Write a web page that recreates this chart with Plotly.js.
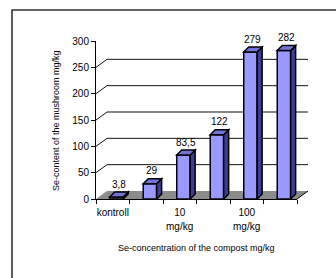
<!DOCTYPE html>
<html>
<head>
<meta charset="utf-8">
<script src="https://cdn.plot.ly/plotly-3.0.1.min.js"></script>
<style>
  html, body { margin: 0; padding: 0; background: #fff; }
  #chart { width: 336px; height: 278px; }
</style>
</head>
<body>
<div id="chart"></div>
<script>
// ---- data ----
const xPositions = [0, 1, 2, 3, 4, 5];
const values = [3.8, 29, 83.5, 122, 279, 282];
const tickPositions = [0, 2, 4];
const tickLabels = ["kontroll", "10", "100"];
const tickUnits = ["", "mg/kg", "mg/kg"];
const yTickValues = [0, 50, 100, 150, 200, 250, 300];
const gridValues = [50, 100, 150, 200, 250];
const xTitle = "Se-concentration of the compost mg/kg";
const yTitle = "Se-content of the mushroom mg/kg";

// ---- layout geometry / style ----
const W = 336, H = 278;
const margin = { l: 96, r: 39, t: 41, b: 79 };
const plotW = W - margin.l - margin.r;
const plotH = H - margin.t - margin.b;
const xRange = [-0.5, 5.5];
const yRange = [0, 300];
const pxPerX = plotW / (xRange[1] - xRange[0]);
const pxPerY = plotH / (yRange[1] - yRange[0]);
const barWidth = 0.4, barOffset = -0.09;
const depth = 5;             // bar depth (px)
const wallDx = 11, wallDy = 8; // back-plane offset (px)
const font = "Liberation Sans, Arial, sans-serif";
const frontColor = "#9999ff", topColor = "#7474d8", sideColor = "#3c3c9a";

const fmt = v => String(v).replace(".", ",");
const boundaries = xPositions.map(p => p - 0.5).concat([xPositions[xPositions.length - 1] + 0.5]);

const shapes = [];
// outer frame
shapes.push({
  type: "rect", xref: "paper", yref: "paper",
  xsizemode: "pixel", ysizemode: "pixel", xanchor: 0, yanchor: 1,
  x0: 12 - margin.l, x1: W, y0: margin.t - 10, y1: -H,
  line: { color: "#333", width: 1.6 }, fillcolor: "rgba(0,0,0,0)", layer: "below"
});
// floor
shapes.push({
  type: "path", xref: "paper", yref: "paper",
  xsizemode: "pixel", ysizemode: "pixel", xanchor: 0, yanchor: 0,
  path: `M0,0 L${plotW},0 L${plotW + wallDx},${wallDy} L${wallDx},${wallDy} Z`,
  fillcolor: "#8c8c8c", line: { width: 0 }, layer: "below"
});
shapes.push({
  type: "path", xref: "paper", yref: "paper",
  xsizemode: "pixel", ysizemode: "pixel", xanchor: 0, yanchor: 0,
  path: `M${plotW},0 L${plotW + wallDx},${wallDy}`,
  line: { color: "#000", width: 1 }, layer: "below"
});
// gridlines on back plane
gridValues.forEach(v => {
  shapes.push({
    type: "path", xref: "paper", yref: "paper",
    xsizemode: "pixel", ysizemode: "pixel", xanchor: 0,
    yanchor: (v - yRange[0]) / (yRange[1] - yRange[0]),
    path: `M0,0 L${wallDx},${wallDy} L${plotW + wallDx},${wallDy}`,
    line: { color: "#111", width: 1 }, layer: "below"
  });
});
// 3D faces of bars
const wpx = barWidth * pxPerX;
xPositions.forEach((x, i) => {
  const v = values[i];
  const h = v * pxPerY;
  const anchorX = x + barOffset + barWidth;
  shapes.push({
    type: "path", xref: "x", yref: "y",
    xsizemode: "pixel", ysizemode: "pixel", xanchor: anchorX, yanchor: v,
    path: `M0,0 L${depth},${depth} L${depth},${-h + depth} L0,${-h} Z`,
    fillcolor: sideColor, line: { color: "#000", width: 1.5 }, layer: "above"
  });
  shapes.push({
    type: "path", xref: "x", yref: "y",
    xsizemode: "pixel", ysizemode: "pixel", xanchor: anchorX, yanchor: v,
    path: `M${-wpx},0 L0,0 L${depth},${depth} L${-wpx + depth},${depth} Z`,
    fillcolor: topColor, line: { color: "#000", width: 1.5 }, layer: "above"
  });
});

const annotations = [];
xPositions.forEach((x, i) => {
  annotations.push({
    x: x, y: values[i], xref: "x", yref: "y", text: fmt(values[i]),
    showarrow: false, xanchor: "center", yanchor: "middle",
    xshift: 6, yshift: 13, font: { family: font, size: 10, color: "#000" }
  });
});
tickPositions.forEach((x, k) => {
  if (tickUnits[k]) {
    annotations.push({
      x: x, y: 0, xref: "x", yref: "paper", text: tickUnits[k],
      showarrow: false, xanchor: "center", yanchor: "middle",
      yshift: -27, font: { family: font, size: 10, color: "#000" }
    });
  }
});
// axis titles
annotations.push({
  x: 0.5, y: 0, xref: "paper", yref: "paper", text: xTitle,
  showarrow: false, xanchor: "center", yanchor: "middle", yshift: -49,
  font: { family: font, size: 9, color: "#000" }
});
annotations.push({
  x: 0, y: 0.5, xref: "paper", yref: "paper", text: yTitle, textangle: -90,
  showarrow: false, xanchor: "center", yanchor: "middle", xshift: -40, yshift: -1,
  font: { family: font, size: 9, color: "#000" }
});

const trace = {
  type: "bar", x: xPositions, y: values,
  width: barWidth, offset: barOffset,
  marker: { color: frontColor, line: { color: "#000", width: 1.5 } },
  hoverinfo: "skip", cliponaxis: false
};

const layout = {
  width: W, height: H, margin: margin,
  paper_bgcolor: "#fff", plot_bgcolor: "rgba(0,0,0,0)",
  showlegend: false,
  font: { family: font, size: 10, color: "#000" },
  xaxis: {
    range: xRange, showgrid: false, zeroline: false,
    showline: true, linecolor: "#000", linewidth: 1,
    tickmode: "array", tickvals: tickPositions, ticktext: tickLabels, ticks: "",
    ticklabelstandoff: 4,
    tickfont: { family: font, size: 10, color: "#000" },
    minor: { tickmode: "array", tickvals: boundaries, ticks: "outside", ticklen: 4, tickcolor: "#000", tickwidth: 1, showgrid: false }
  },
  yaxis: {
    range: yRange, showgrid: false, zeroline: false,
    showline: true, linecolor: "#000", linewidth: 1,
    tickmode: "array", tickvals: yTickValues,
    ticks: "outside", ticklen: 4, tickcolor: "#000",
    tickfont: { family: font, size: 10, color: "#000" }
  },
  shapes: shapes,
  annotations: annotations,
  bargap: 0
};

Plotly.newPlot("chart", [trace], layout, { staticPlot: true, displayModeBar: false });
</script>
</body>
</html>
